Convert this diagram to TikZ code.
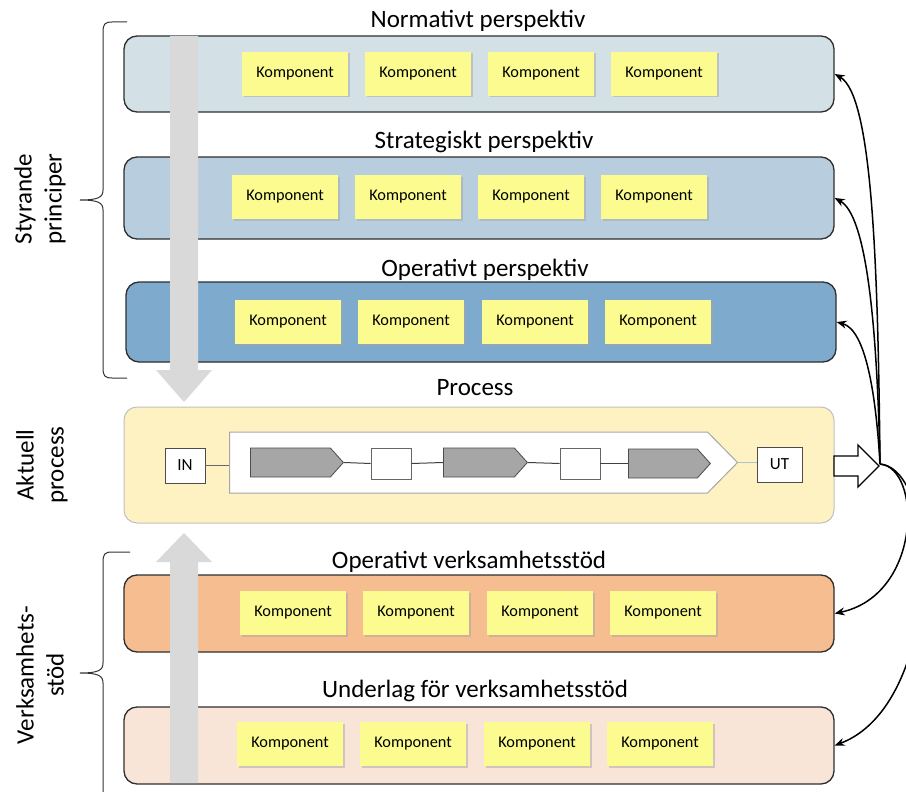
\documentclass[tikz,border=0pt]{standalone}
\usepackage{fontspec}
\setmainfont{Carlito}
\usetikzlibrary{shapes.symbols,shadows,arrows.meta}

\definecolor{normfill}{HTML}{D3E0E6}
\definecolor{stratfill}{HTML}{B8CEDF}
\definecolor{operfill}{HTML}{7EAACE}
\definecolor{procfill}{HTML}{FFF2C2}
\definecolor{ovsfill}{HTML}{F6BE90}
\definecolor{undfill}{HTML}{F9E5D7}
\definecolor{compfill}{HTML}{FBFB8F}
\definecolor{bigarrow}{HTML}{D9D9D9}
\definecolor{stepgray}{HTML}{A6A6A6}
\definecolor{framedark}{HTML}{2E2E2E}

\tikzset{
  panel/.style={draw=framedark, line width=1.3pt, rounded corners=13pt, inner sep=0pt},
  comp/.style={fill=compfill, minimum width=106pt, minimum height=44pt, inner sep=0pt,
    font=\fontsize{16.3}{19}\selectfont,
    drop shadow={shadow xshift=1.5pt, shadow yshift=-1.5pt, fill=black!35, opacity=.5}},
  ptitle/.style={font=\fontsize{25}{30}\selectfont, inner sep=0pt},
  sidelabel/.style={font=\fontsize{25}{30}\selectfont, rotate=90, align=center, inner sep=0pt},
  ioterm/.style={draw=black!70, fill=white, line width=0.8pt, inner sep=0pt,
    font=\fontsize{17}{20}\selectfont},
  stepsig/.style={signal, signal to=east, draw=black!70, fill=stepgray, line width=0.8pt,
    inner sep=0pt, minimum height=29pt, signal pointer angle=96, anchor=west},
  stepsq/.style={draw=black!60, fill=white, line width=0.8pt, minimum width=40pt,
    minimum height=31pt, inner sep=0pt},
  link/.style={draw=black!75, line width=1pt},
  feed/.style={draw=black, line width=1.5pt, -{Stealth[length=10pt,width=8pt]}},
  bracepath/.style={draw=black!80, line width=1pt},
}

\begin{document}
\begin{tikzpicture}[x=1pt,y=-1pt]
\useasboundingbox (0,0) rectangle (906,792);
\clip (0,0) rectangle (906,792);

% ---- governing layers ----
\node[panel, fill=normfill, minimum width=710pt, minimum height=76pt] (norm) at (479,74) {};
\node[panel, fill=stratfill, minimum width=710pt, minimum height=82pt] (strat) at (479,198) {};
\node[panel, fill=operfill, minimum width=710pt, minimum height=80pt] (oper) at (481,322) {};

% ---- current process ----
\node[panel, draw=black!25, line width=1pt, fill=procfill, minimum width=710pt, minimum height=116pt] (proc) at (479,465) {};

% ---- support layers ----
\node[panel, fill=ovsfill, minimum width=710pt, minimum height=77pt] (ovs) at (479,613.5) {};
\node[panel, fill=undfill, minimum width=710pt, minimum height=77pt] (und) at (479,745.5) {};

% ---- large flow arrows ----
\fill[bigarrow] (170,36) -- (198,36) -- (198,370) -- (212,370) -- (184,402) -- (156,370) -- (170,370) -- cycle;
\fill[bigarrow] (170,783) -- (198,783) -- (198,562) -- (212,562) -- (184,533) -- (156,562) -- (170,562) -- cycle;

% ---- titles ----
\node[ptitle] (tnorm) at (478,21) {Normativt perspektiv};
\node[ptitle] (tstrat) at (484,142) {Strategiskt perspektiv};
\node[ptitle] (toper) at (485,270) {Operativt perspektiv};
\node[ptitle] (tproc) at (475,388) {Process};
\node[ptitle] (tovs) at (469,562) {Operativt verksamhetsstöd};
\node[ptitle] (tund) at (475,691) {Underlag för verksamhetsstöd};

% ---- components ----
\foreach \cx [count=\i] in {295,418,541,664} \node[comp] (n\i) at (\cx,74) {Komponent};
\foreach \cx [count=\i] in {285,408,531,654} \node[comp] (s\i) at (\cx,197) {Komponent};
\foreach \cx [count=\i] in {288,411,535,658} \node[comp] (o\i) at (\cx,322) {Komponent};
\foreach \cx [count=\i] in {293,416,540,663} \node[comp] (v\i) at (\cx,613) {Komponent};
\foreach \cx [count=\i] in {290,413,537,660} \node[comp] (u\i) at (\cx,744) {Komponent};

% ---- process chain ----
\node[signal, signal to=east, draw=black!35, fill=white, line width=1pt, inner sep=0pt,
  minimum width=508pt, minimum height=61pt, signal pointer angle=91, anchor=west] (chain) at (229,462.5) {};
\node[ioterm, minimum width=40pt, minimum height=35pt] (in) at (185,465.5) {IN};
\node[ioterm, minimum width=45pt, minimum height=35pt] (ut) at (779.5,464.5) {UT};
\node[stepsig, minimum width=93pt] (p1) at (250,462.5) {};
\node[stepsq] (q1) at (391,463.5) {};
\node[stepsig, minimum width=84pt] (p2) at (443,462.5) {};
\node[stepsq] (q2) at (580,463.5) {};
\node[stepsig, minimum width=82pt] (p3) at (628,463.5) {};

\draw[draw=black!60, line width=1pt] (in.east) -- (chain.west |- in.east);
\draw[draw=cyan!30!gray!60, line width=1pt] (chain.east) -- (ut.west |- chain.east);
\draw[link] (p1.east) -- (q1.west);
\draw[link] (q1.east) -- (p2.west);
\draw[link] (p2.east) -- (q2.west);
\draw[link] (q2.east) -- (p3.west);

% ---- output arrow and feedback ----
\coordinate (hub) at (880,464);
\draw[line width=1.3pt, fill=white] (834,456) -- (858,456) -- (858,445) -- (879,466) -- (858,487) -- (858,476) -- (834,476) -- cycle;

\draw[feed] (hub) .. controls (878,260) and (872,95) .. (norm.east);
\draw[feed] (hub) .. controls (877,320) and (866,215) .. (strat.east);
\draw[feed] (hub) .. controls (876,395) and (866,330) .. (oper.east);
\draw[feed] (hub) .. controls (922,468) and (922,595) .. (ovs.east);
\draw[feed] (hub) .. controls (942,470) and (942,705) .. (und.east);

% ---- braces and side labels ----
\draw[bracepath] (127,22) -- (112,22) .. controls (105,22) and (103,24) .. (103,32)
  -- (103,190) .. controls (103,197) and (99,200) .. (80,200)
  .. controls (99,200) and (103,203) .. (103,210)
  -- (103,368) .. controls (103,376) and (105,378) .. (112,378) -- (127,378);
\draw[bracepath] (130,552) -- (112,552) .. controls (105,552) and (103,554) .. (103,562)
  -- (103,663) .. controls (103,670) and (99,673) .. (80,673)
  .. controls (99,673) and (103,676) .. (103,683) -- (103,800);

\node[sidelabel] (lstyr) at (40,199) {Styrande\\principer};
\node[sidelabel] (lakt) at (42,465) {Aktuell\\process};
\node[sidelabel] (lverk) at (40,675) {Verksamhets-\\stöd};
\end{tikzpicture}
\end{document}
